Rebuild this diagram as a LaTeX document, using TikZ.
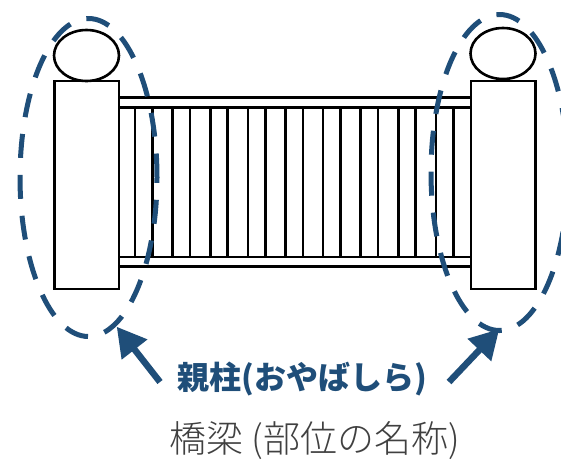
\documentclass[tikz,border=0pt]{standalone}
\usepackage{fontspec}
\newfontfamily\jpfont{Noto Sans CJK JP}
\newfontfamily\jplight{Noto Sans CJK JP Light}
\usepackage{tikz}
\usetikzlibrary{shapes,arrows.meta}
\definecolor{ringblue}{RGB}{31,78,121}
\definecolor{txtgray}{RGB}{64,64,64}

\begin{document}
\begin{tikzpicture}[x=1pt, y=-1pt,
  ring/.style={ellipse, draw=ringblue, line width=5pt, dash pattern=on 24pt off 17pt, inner sep=0pt},
  pil/.style={draw=ringblue, line width=6.5pt, -{Triangle[length=29pt,width=31pt]}},
  fence/.style={draw=black, line width=2.6pt}]

  \useasboundingbox (0,0) rectangle (561,459);

  \newcommand\X{37.6};
  \newcommand\W{17.5};

  %% rails
  \draw[fence] (119, 97.7) rectangle (471, 107.3);
  \draw[fence] (119, 257) rectangle (471, 266.7);

  %% pickets
  \draw[fence] (135+0*\X, 107.3) rectangle +(\W, 149.7);
  \draw[fence] (135+1*\X, 107.3) rectangle +(\W, 149.7);
  \draw[fence] (135+2*\X, 107.3) rectangle +(\W, 149.7);
  \draw[fence] (135+3*\X, 107.3) rectangle +(\W, 149.7);
  \draw[fence] (135+4*\X, 107.3) rectangle +(\W, 149.7);
  \draw[fence] (135+5*\X, 107.3) rectangle +(\W, 149.7);
  \draw[fence] (135+6*\X, 107.3) rectangle +(\W, 149.7);
  \draw[fence] (135+7*\X, 107.3) rectangle +(\W, 149.7);
  \draw[fence] (135+8*\X, 107.3) rectangle +(\W, 149.7);

  %% posts and caps
  \draw[fence, fill=white] (54.3, 81) rectangle (119, 289);
  \draw[fence, fill=white] (471, 81) rectangle (535.5, 289);
  \draw[fence] (86.5, 55.5) ellipse [x radius=32.5, y radius=25.5];
  \draw[fence] (503, 53.5) ellipse [x radius=32.5, y radius=25.5];

  %% dashed rings
  \node[ring, minimum width=137pt, minimum height=318pt] (lring) at (88.5, 177.5) {};
  \node[ring, minimum width=137pt, minimum height=316pt] (rring) at (499.5, 172.5) {};

  %% labels
  \node[font=\jpfont\bfseries\fontsize{32}{32}\selectfont, text=ringblue] (oya) at (302, 379) {親柱(おやばしら)};
  \node[font=\jplight\fontsize{37}{37}\selectfont, text=txtgray] (kyo) at (315, 441) {橋梁 (部位の名称)};

  \coordinate (ltail) at (160, 382);
  \coordinate (ltip) at (116.7, 326.7);
  \coordinate (rtail) at (449, 382);
  \coordinate (rtip) at (499.3, 329);

  \draw[pil] (ltail) -- (ltip); %% left post
  \draw[pil] (rtail) -- (rtip); %% right post
\end{tikzpicture}
\end{document}
